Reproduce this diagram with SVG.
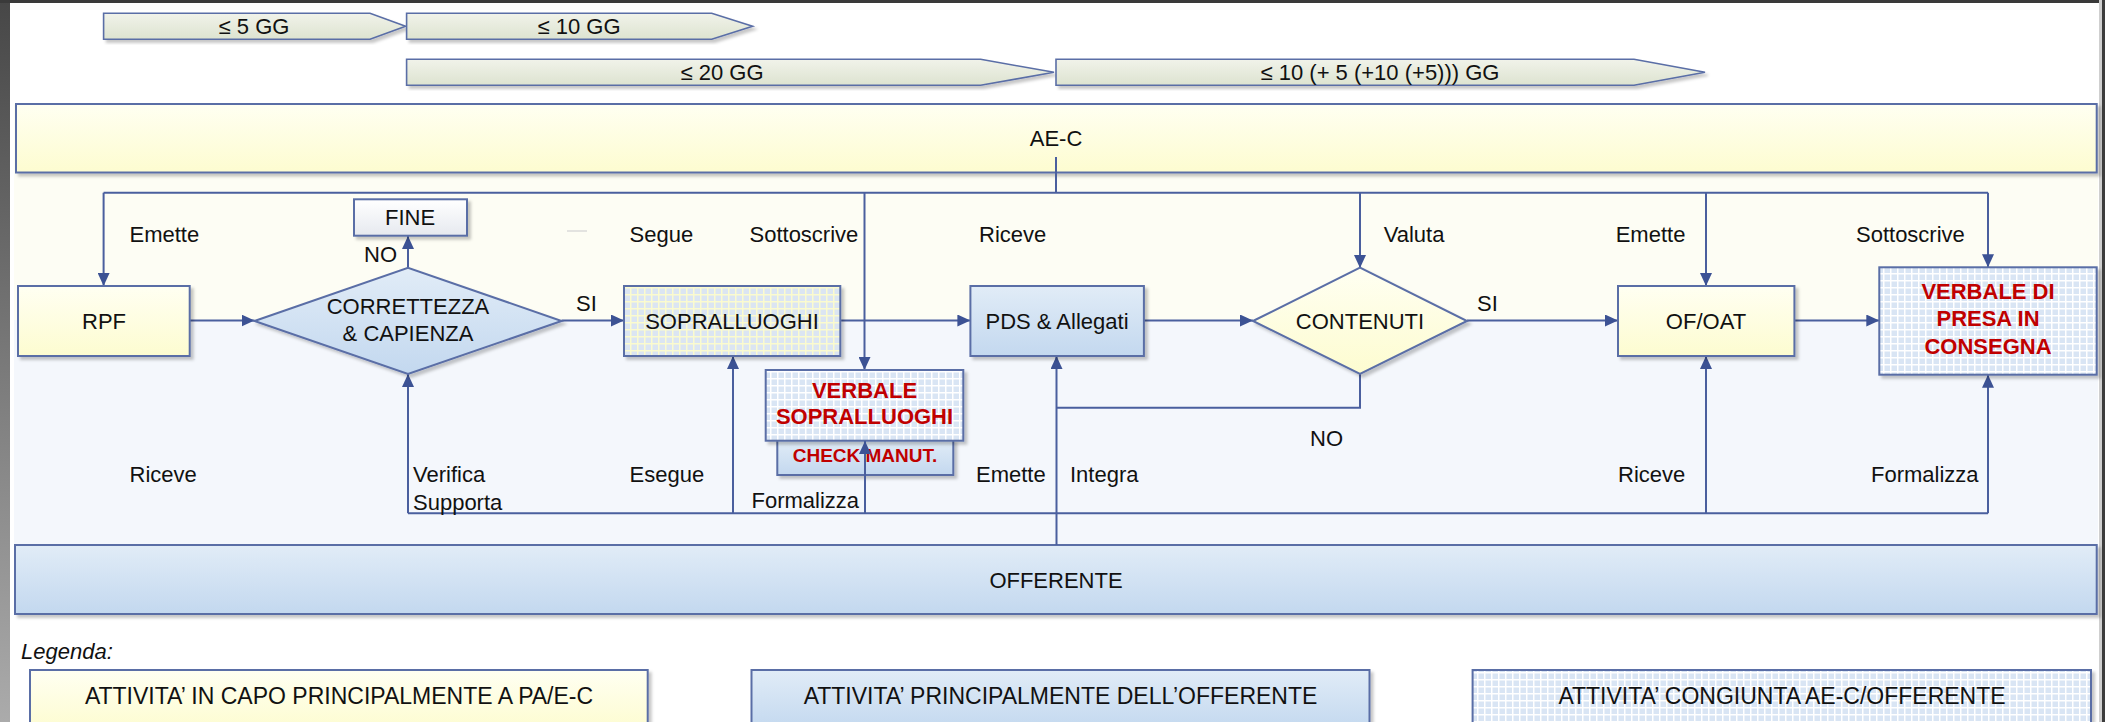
<svg xmlns="http://www.w3.org/2000/svg" width="2105" height="722" viewBox="0 0 2105 722">
<defs>
<linearGradient id="gLeft" x1="0" y1="0" x2="0" y2="1"><stop offset="0" stop-color="#474747"/><stop offset="1" stop-color="#ababab"/></linearGradient>
<linearGradient id="gYel" x1="0" y1="0" x2="0" y2="1"><stop offset="0" stop-color="#fffff2"/><stop offset="1" stop-color="#fdfcd0"/></linearGradient>
<linearGradient id="gBlue" x1="0" y1="0" x2="0" y2="1"><stop offset="0" stop-color="#e1ecf7"/><stop offset="1" stop-color="#c3d8ef"/></linearGradient>
<linearGradient id="gTime" x1="0" y1="0" x2="0" y2="1"><stop offset="0" stop-color="#f1f3ea"/><stop offset="1" stop-color="#dde3d0"/></linearGradient>
<linearGradient id="gFine" x1="0" y1="0" x2="0" y2="1"><stop offset="0" stop-color="#ffffff"/><stop offset="1" stop-color="#e6e9ef"/></linearGradient>
<pattern id="chkW" width="7" height="7" patternUnits="userSpaceOnUse"><rect width="7" height="7" fill="#d9e5f4"/><path d="M0,0.75 H7 M0.75,0 V7" stroke="#ffffff" stroke-width="1.5"/></pattern>
<pattern id="chkY" width="7" height="7" patternUnits="userSpaceOnUse"><rect width="7" height="7" fill="#dbe5f2"/><path d="M0,0.75 H7 M0.75,0 V7" stroke="#fbfbcf" stroke-width="1.5"/></pattern>
<filter id="sh" x="-5%" y="-10%" width="115%" height="130%"><feDropShadow dx="3" dy="3" stdDeviation="1.5" flood-color="#000" flood-opacity="0.22"/></filter>
<marker id="ar" markerUnits="userSpaceOnUse" markerWidth="14" markerHeight="12" refX="13" refY="6" orient="auto"><path d="M0,0 L13,6 L0,12 z" fill="#3c5294"/></marker>
<style>
text{font-family:"Liberation Sans",Arial,sans-serif;font-size:22px;fill:#111}
.c{text-anchor:middle}
.red{fill:#c00000;font-weight:bold}
.leg{font-size:23px}
.box{stroke:#5a6ea6;stroke-width:2;filter:url(#sh)}
.y{fill:url(#gYel)}
.b{fill:url(#gBlue)}
.tl{fill:url(#gTime);stroke:#5a6ea6;stroke-width:1.6;filter:url(#sh)}
.ln{fill:none;stroke:#4a5f9e;stroke-width:2}
.ar{marker-end:url(#ar)}
</style>
</defs>
<rect width="2105" height="722" fill="#ffffff"/>
<rect x="0" y="0" width="10" height="722" fill="url(#gLeft)"/>
<rect x="0" y="0" width="2105" height="3" fill="#3a3a3a"/>
<rect x="2099" y="0" width="3" height="722" fill="#cfcfcf"/>
<rect x="2102" y="0" width="3" height="722" fill="#3c3c3c"/>
<rect x="14" y="104" width="2084" height="216" fill="#fdfdf4"/>
<rect x="14" y="320" width="2084" height="294" fill="#f4f7fc"/>
<line x1="567" y1="231" x2="587" y2="231" stroke="#dadada" stroke-width="1.5"/>

<g id="timeline">
<g id="t5"><path class="tl" d="M103.6,13.3 H370 L405.6,26.3 L370,39.3 H103.6 Z"/><text class="c" x="254" y="34">≤ 5 GG</text></g>
<g id="t10"><path class="tl" d="M406.6,13.3 H711.7 L752.6,26.3 L711.7,39.3 H406.6 Z"/><text class="c" x="579" y="34">≤ 10 GG</text></g>
<g id="t20"><path class="tl" d="M406.6,59.3 H980.6 L1054,72.3 L980.6,85.3 H406.6 Z"/><text class="c" x="722" y="80">≤ 20 GG</text></g>
<g id="t10b"><path class="tl" d="M1056,59.3 H1634 L1705,72.3 L1634,85.3 H1056 Z"/><text class="c" x="1380" y="80">≤ 10 (+ 5 (+10 (+5))) GG</text></g>
</g>

<g id="aec"><rect class="box y" x="16" y="104" width="2080.7" height="68.5"/><text class="c" x="1056" y="146">AE-C</text></g>
<g id="offerente"><rect class="box b" x="15" y="545" width="2081.7" height="69"/><text class="c" x="1056" y="588">OFFERENTE</text></g>

<g id="connectors">
<path class="ln" d="M103.6,192.7 H1988"/>
<path class="ln" d="M1056,157 V192.7"/>
<path class="ln ar" d="M103.6,192.7 V286"/>
<path class="ln ar" d="M864.5,192.7 V370"/>
<path class="ln ar" d="M1360,192.7 V268"/>
<path class="ln ar" d="M1706,192.7 V286"/>
<path class="ln ar" d="M1988,192.7 V267.3"/>
<path class="ln ar" d="M190,320.5 H254.5"/>
<path class="ln ar" d="M561.6,320.5 H624"/>
<path class="ln ar" d="M840.3,320.5 H970.4"/>
<path class="ln ar" d="M1144,320.5 H1253"/>
<path class="ln ar" d="M1467,320.5 H1618"/>
<path class="ln ar" d="M1794.4,320.5 H1879.3"/>
<path class="ln ar" d="M408,268 V236"/>
<path class="ln" d="M408,513.3 H1988"/>
<path class="ln ar" d="M408,513.3 V374"/>
<path class="ln ar" d="M733,513.3 V356"/>
<path class="ln ar" d="M1706,513.3 V356"/>
<path class="ln ar" d="M1988,513.3 V374.7"/>
<path class="ln ar" d="M1056.5,545 V356"/>
<path class="ln" d="M1360,374 V407.7 H1056.5"/>
</g>

<g id="rpf"><rect class="box y" x="18" y="286" width="171.7" height="70"/><text class="c" x="104" y="329">RPF</text></g>
<g id="correttezza"><path class="box b" d="M254.5,321 L408,267.7 L561.6,321 L408,374 Z"/><text class="c" x="408" y="314">CORRETTEZZA</text><text class="c" x="408" y="341">&amp; CAPIENZA</text></g>
<g id="fine"><rect class="box" fill="url(#gFine)" x="354" y="199.3" width="113" height="36.4"/><text class="c" x="410" y="225">FINE</text></g>
<g id="sopralluoghi"><rect class="box" fill="url(#chkY)" x="624" y="286" width="216.3" height="70"/><text class="c" x="732" y="329">SOPRALLUOGHI</text></g>
<g id="check"><rect class="box b" x="777.3" y="440" width="176" height="35"/><text class="c red" x="865" y="462" style="font-size:19px">CHECK MANUT.</text></g>
<g id="verbale-sopralluoghi"><rect class="box" fill="url(#chkW)" x="765.7" y="370" width="197.6" height="70.7"/><text class="c red" x="864.5" y="398">VERBALE</text><text class="c red" x="864.5" y="424">SOPRALLUOGHI</text></g>
<path class="ln ar" d="M865,513.3 V441"/>
<g id="pds"><rect class="box b" x="970.4" y="286" width="173.5" height="70"/><text class="c" x="1057" y="329">PDS &amp; Allegati</text></g>
<g id="contenuti"><path class="box y" d="M1253,321 L1360,267.7 L1467,321 L1360,374 Z"/><text class="c" x="1360" y="329">CONTENUTI</text></g>
<g id="ofoat"><rect class="box y" x="1618" y="286" width="176.4" height="70"/><text class="c" x="1706" y="329">OF/OAT</text></g>
<g id="verbale-presa"><rect class="box" fill="url(#chkW)" x="1879.3" y="267.3" width="217.4" height="107.4"/><text class="c red" x="1988" y="299">VERBALE DI</text><text class="c red" x="1988" y="326">PRESA IN</text><text class="c red" x="1988" y="354">CONSEGNA</text></g>

<g id="labels">
<text x="129.5" y="242">Emette</text>
<text x="364" y="262">NO</text>
<text x="629.5" y="242">Segue</text>
<text x="749.5" y="242">Sottoscrive</text>
<text x="979" y="242">Riceve</text>
<text x="1383.7" y="242">Valuta</text>
<text x="1615.7" y="242">Emette</text>
<text x="1856" y="242">Sottoscrive</text>
<text x="576" y="311">SI</text>
<text x="1477" y="311">SI</text>
<text x="1310" y="446">NO</text>
<text x="129.5" y="482">Riceve</text>
<text x="413" y="482">Verifica</text>
<text x="413" y="509.7">Supporta</text>
<text x="629.5" y="482">Esegue</text>
<text x="751.5" y="508">Formalizza</text>
<text x="976" y="482">Emette</text>
<text x="1070" y="482">Integra</text>
<text x="1618" y="482">Riceve</text>
<text x="1871" y="482">Formalizza</text>
</g>

<g id="legenda">
<text x="21" y="659" style="font-style:italic;font-size:22px">Legenda:</text>
<g id="leg1"><rect class="box y" x="30" y="670" width="617.7" height="60"/><text class="c leg" x="339" y="704">ATTIVITA’ IN CAPO PRINCIPALMENTE A PA/E-C</text></g>
<g id="leg2"><rect class="box b" x="751.5" y="670" width="618" height="60"/><text class="c leg" x="1060.5" y="704">ATTIVITA’ PRINCIPALMENTE DELL’OFFERENTE</text></g>
<g id="leg3"><rect class="box" fill="url(#chkW)" x="1472.6" y="670" width="618.4" height="60"/><text class="c leg" x="1782" y="704">ATTIVITA’ CONGIUNTA AE-C/OFFERENTE</text></g>
</g>
</svg>
